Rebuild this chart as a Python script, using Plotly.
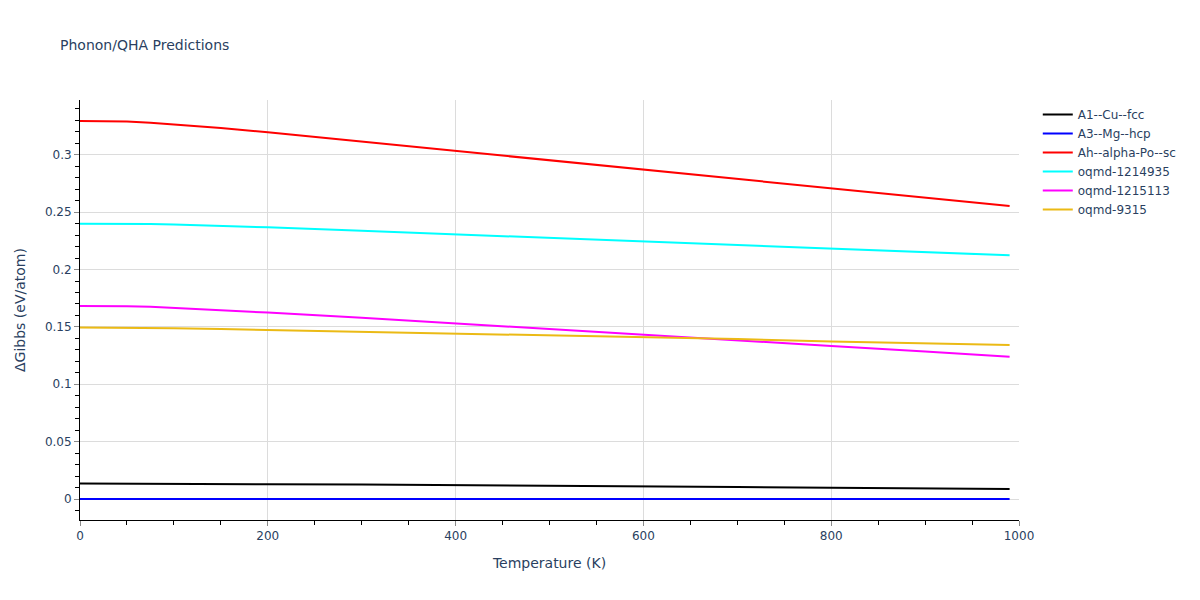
import plotly.graph_objects as go

temperature = [0, 25, 50, 75, 100, 150, 200, 300, 400, 500, 600, 700, 800, 900, 990]

cu_fcc = [0.0135, 0.0135, 0.0134, 0.0134, 0.0133, 0.0131, 0.0129, 0.0126, 0.0122,
          0.0116, 0.0110, 0.0104, 0.0098, 0.0093, 0.0088]
mg_hcp = [0.0] * len(temperature)
alpha_po_sc = [0.3295, 0.3295, 0.3290, 0.3280, 0.3265, 0.3235, 0.3197, 0.3116, 0.3033,
               0.2950, 0.2868, 0.2788, 0.2707, 0.2628, 0.2554]
oqmd_1214935 = [0.2400, 0.2400, 0.2399, 0.2397, 0.2393, 0.2382, 0.2368, 0.2338, 0.2307,
                0.2277, 0.2246, 0.2215, 0.2185, 0.2154, 0.2124]
oqmd_1215113 = [0.1682, 0.1682, 0.1680, 0.1675, 0.1665, 0.1648, 0.1625, 0.1580, 0.1532,
                0.1483, 0.1433, 0.1384, 0.1334, 0.1285, 0.1239]
oqmd_9315 = [0.1494, 0.1494, 0.1493, 0.1491, 0.1488, 0.1482, 0.1474, 0.1459, 0.1442,
             0.1429, 0.1415, 0.1394, 0.1372, 0.1357, 0.1343]

series = [
    ("A1--Cu--fcc", cu_fcc, "black"),
    ("A3--Mg--hcp", mg_hcp, "blue"),
    ("Ah--alpha-Po--sc", alpha_po_sc, "red"),
    ("oqmd-1214935", oqmd_1214935, "cyan"),
    ("oqmd-1215113", oqmd_1215113, "magenta"),
    ("oqmd-9315", oqmd_9315, "#EBBA15"),
]

fig = go.Figure()
for name, vals, color in series:
    fig.add_trace(go.Scatter(x=temperature, y=vals, mode="lines", name=name,
                             line=dict(color=color, width=2)))

axis_common = dict(
    showline=True, linecolor="black", linewidth=1,
    ticks="outside", tickcolor="#8a8a8a", ticklen=5,
    showgrid=True, gridcolor="#dcdcdc", gridwidth=1,
    zeroline=False,
    tickfont=dict(color="#2a3f5f", size=12),
)

W, H = 1192, 592  # page body has an 8px offset

fig.update_layout(
    width=W, height=H,
    template="plotly_white",
    paper_bgcolor="white", plot_bgcolor="white",
    title=dict(text="Phonon/QHA Predictions", x=52 / W, xanchor="left",
               y=1 - 37 / H, yanchor="middle",
               font=dict(size=14, color="#2a3f5f")),
    margin=dict(l=72, r=181, t=92, b=80),
    font=dict(family="DejaVu Sans, Verdana, sans-serif", color="#2a3f5f", size=12),
    legend=dict(font=dict(size=12, color="#2a3f5f")),
    xaxis=dict(title=dict(text="Temperature (K)", font=dict(size=14)),
               range=[0, 1000], dtick=200,
               minor=dict(ticks="outside", dtick=50, ticklen=4, tickcolor="black", showgrid=False),
               **axis_common),
    yaxis=dict(title=dict(text="ΔGibbs (eV/atom)", font=dict(size=14)),
               dtick=0.05,
               minor=dict(ticks="outside", dtick=0.01, ticklen=4, tickcolor="black", showgrid=False),
               **axis_common),
)

fig.write_html("out.html")
